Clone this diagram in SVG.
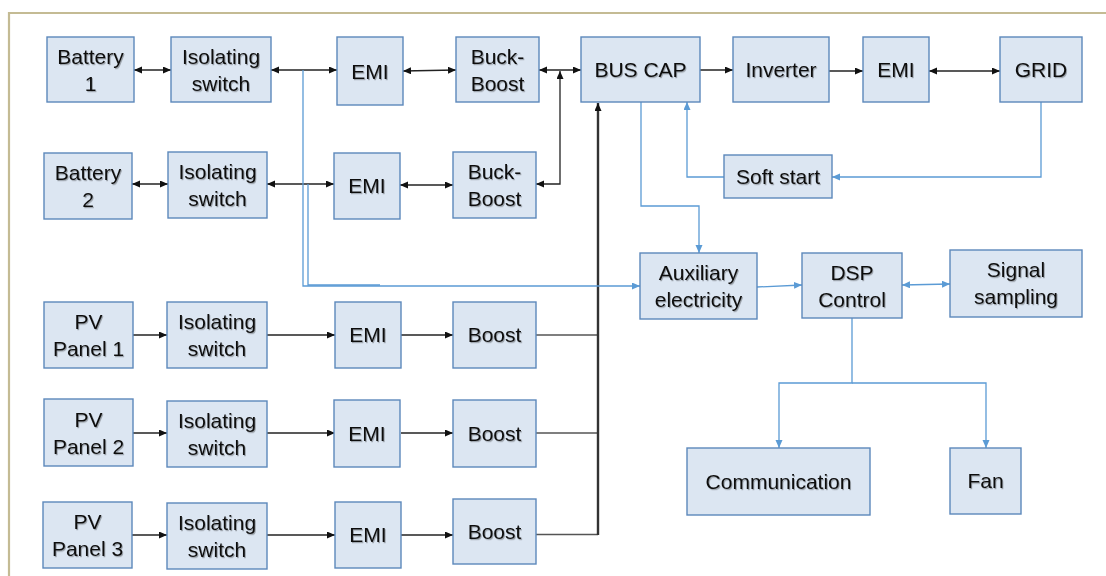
<svg xmlns="http://www.w3.org/2000/svg" width="1106" height="576" viewBox="0 0 1106 576">
<style>
.box{fill:#dce6f2;stroke:#5c88bb;stroke-width:1.4}
.t{font-family:"Liberation Sans",Arial,sans-serif;font-size:21px;fill:#111;text-anchor:middle;filter:url(#sh)}
.k{fill:none;stroke:#222;stroke-width:1.3}
.kb{fill:none;stroke:#555;stroke-width:1.6}
.bus{fill:none;stroke:#333;stroke-width:2.4}
.b{fill:none;stroke:#5b9bd5;stroke-width:1.3}
.frame{fill:none;stroke:#c4bb94;stroke-width:2.2}
</style>
<defs>
<filter id="sh" x="-10%" y="-10%" width="130%" height="140%">
<feDropShadow dx="1" dy="1.2" stdDeviation="0.6" flood-color="#000" flood-opacity="0.3"/>
</filter>
<marker id="ak" markerUnits="userSpaceOnUse" markerWidth="9" markerHeight="8" refX="8" refY="3.5" orient="auto-start-reverse">
<path d="M0,0 L8,3.5 L0,7 z" fill="#111"/>
</marker>
<marker id="ab" markerUnits="userSpaceOnUse" markerWidth="9" markerHeight="8" refX="8" refY="3.5" orient="auto-start-reverse">
<path d="M0,0 L8,3.5 L0,7 z" fill="#5b9bd5"/>
</marker>
</defs>
<rect width="1106" height="576" fill="#fff"/>
<path class="frame" d="M9,576 V13 H1106"/>

<g id="connectors">
<!-- black power path -->
<line class="k" x1="134" y1="70" x2="171" y2="70" marker-start="url(#ak)" marker-end="url(#ak)"/>
<line class="k" x1="271" y1="70" x2="337" y2="70" marker-start="url(#ak)" marker-end="url(#ak)"/>
<line class="k" x1="403" y1="71" x2="456" y2="70" marker-start="url(#ak)" marker-end="url(#ak)"/>
<line class="k" x1="539" y1="70" x2="581" y2="70" marker-start="url(#ak)" marker-end="url(#ak)"/>
<path class="k" d="M560,71 V184 H536" marker-start="url(#ak)" marker-end="url(#ak)"/>
<line class="k" x1="132" y1="184" x2="168" y2="184" marker-start="url(#ak)" marker-end="url(#ak)"/>
<line class="k" x1="267" y1="184" x2="334" y2="184" marker-start="url(#ak)" marker-end="url(#ak)"/>
<line class="k" x1="400" y1="185" x2="453" y2="185" marker-start="url(#ak)" marker-end="url(#ak)"/>
<line class="k" x1="700" y1="70" x2="733" y2="70" marker-end="url(#ak)"/>
<line class="k" x1="829" y1="71" x2="863" y2="71" marker-end="url(#ak)"/>
<line class="k" x1="929" y1="71" x2="1000" y2="71" marker-start="url(#ak)" marker-end="url(#ak)"/>
<!-- PV rows -->
<line class="k" x1="133" y1="335" x2="167" y2="335" marker-end="url(#ak)"/>
<line class="k" x1="267" y1="335" x2="335" y2="335" marker-end="url(#ak)"/>
<line class="k" x1="401" y1="335" x2="453" y2="335" marker-end="url(#ak)"/>
<line class="kb" x1="536" y1="335" x2="598" y2="335"/>
<line class="k" x1="133" y1="433" x2="167" y2="433" marker-end="url(#ak)"/>
<line class="k" x1="267" y1="433" x2="335" y2="433" marker-end="url(#ak)"/>
<line class="k" x1="401" y1="433" x2="453" y2="433" marker-end="url(#ak)"/>
<line class="kb" x1="536" y1="433" x2="598" y2="433"/>
<line class="k" x1="132" y1="535" x2="167" y2="535" marker-end="url(#ak)"/>
<line class="k" x1="267" y1="535" x2="335" y2="535" marker-end="url(#ak)"/>
<line class="k" x1="401" y1="535" x2="453" y2="535" marker-end="url(#ak)"/>
<line class="kb" x1="536" y1="534.5" x2="598" y2="534.5"/>
<path class="bus" d="M598,535 V103" marker-end="url(#ak)"/>
<!-- blue control path -->
<path class="b" d="M303,70 V286 H640" marker-end="url(#ab)"/>
<path class="b" d="M308,184 V285 H380"/>
<path class="b" d="M641,102 V206 H699 V253" marker-end="url(#ab)"/>
<path class="b" d="M724,177 H687 V102" marker-end="url(#ab)"/>
<path class="b" d="M1041,102 V177 H832" marker-end="url(#ab)"/>
<line class="b" x1="757" y1="287" x2="802" y2="285" marker-end="url(#ab)"/>
<line class="b" x1="902" y1="285" x2="950" y2="284" marker-start="url(#ab)" marker-end="url(#ab)"/>
<path class="b" d="M852,318 V383 H779 V448" marker-end="url(#ab)"/>
<path class="b" d="M852,383 H986 V448" marker-end="url(#ab)"/>
</g>

<g id="battery1"><rect class="box" x="47" y="37" width="87" height="65"/><text class="t" x="90.5" y="64">Battery</text><text class="t" x="90.5" y="91">1</text></g>
<g id="iso1"><rect class="box" x="171" y="37" width="100" height="65"/><text class="t" x="221" y="64">Isolating</text><text class="t" x="221" y="91">switch</text></g>
<g id="emi1"><rect class="box" x="337" y="37" width="66" height="68"/><text class="t" x="370" y="78.5">EMI</text></g>
<g id="buckboost1"><rect class="box" x="456" y="37" width="83" height="65"/><text class="t" x="497.5" y="64">Buck-</text><text class="t" x="497.5" y="91">Boost</text></g>
<g id="buscap"><rect class="box" x="581" y="37" width="119" height="65"/><text class="t" x="640.5" y="77">BUS CAP</text></g>
<g id="inverter"><rect class="box" x="733" y="37" width="96" height="65"/><text class="t" x="781" y="77">Inverter</text></g>
<g id="emi3"><rect class="box" x="863" y="37" width="66" height="65"/><text class="t" x="896" y="77">EMI</text></g>
<g id="grid"><rect class="box" x="1000" y="37" width="82" height="65"/><text class="t" x="1041" y="77">GRID</text></g>

<g id="battery2"><rect class="box" x="44" y="153" width="88" height="66"/><text class="t" x="88" y="180">Battery</text><text class="t" x="88" y="207">2</text></g>
<g id="iso2"><rect class="box" x="168" y="152" width="99" height="66"/><text class="t" x="217.5" y="179">Isolating</text><text class="t" x="217.5" y="206">switch</text></g>
<g id="emi2"><rect class="box" x="334" y="153" width="66" height="66"/><text class="t" x="367" y="193">EMI</text></g>
<g id="buckboost2"><rect class="box" x="453" y="152" width="83" height="66"/><text class="t" x="494.5" y="179">Buck-</text><text class="t" x="494.5" y="206">Boost</text></g>
<g id="softstart"><rect class="box" x="724" y="155" width="108" height="43"/><text class="t" x="778" y="184">Soft start</text></g>

<g id="auxiliary"><rect class="box" x="640" y="253" width="117" height="66"/><text class="t" x="698.5" y="280">Auxiliary</text><text class="t" x="698.5" y="307">electricity</text></g>
<g id="dsp"><rect class="box" x="802" y="253" width="100" height="65"/><text class="t" x="852" y="280">DSP</text><text class="t" x="852" y="307">Control</text></g>
<g id="signal"><rect class="box" x="950" y="250" width="132" height="67"/><text class="t" x="1016" y="277">Signal</text><text class="t" x="1016" y="304">sampling</text></g>

<g id="pv1"><rect class="box" x="44" y="302" width="89" height="66"/><text class="t" x="88.5" y="329">PV</text><text class="t" x="88.5" y="356">Panel 1</text></g>
<g id="iso3"><rect class="box" x="167" y="302" width="100" height="66"/><text class="t" x="217" y="329">Isolating</text><text class="t" x="217" y="356">switch</text></g>
<g id="emi4"><rect class="box" x="335" y="302" width="66" height="66"/><text class="t" x="368" y="342">EMI</text></g>
<g id="boost1"><rect class="box" x="453" y="302" width="83" height="66"/><text class="t" x="494.5" y="342">Boost</text></g>

<g id="pv2"><rect class="box" x="44" y="399" width="89" height="67"/><text class="t" x="88.5" y="427">PV</text><text class="t" x="88.5" y="454">Panel 2</text></g>
<g id="iso4"><rect class="box" x="167" y="401" width="100" height="66"/><text class="t" x="217" y="428">Isolating</text><text class="t" x="217" y="455">switch</text></g>
<g id="emi5"><rect class="box" x="334" y="400" width="66" height="67"/><text class="t" x="367" y="441">EMI</text></g>
<g id="boost2"><rect class="box" x="453" y="400" width="83" height="67"/><text class="t" x="494.5" y="441">Boost</text></g>

<g id="pv3"><rect class="box" x="43" y="502" width="89" height="66"/><text class="t" x="87.5" y="529">PV</text><text class="t" x="87.5" y="556">Panel 3</text></g>
<g id="iso5"><rect class="box" x="167" y="503" width="100" height="66"/><text class="t" x="217" y="530">Isolating</text><text class="t" x="217" y="557">switch</text></g>
<g id="emi6"><rect class="box" x="335" y="502" width="66" height="66"/><text class="t" x="368" y="542">EMI</text></g>
<g id="boost3"><rect class="box" x="453" y="499" width="83" height="65"/><text class="t" x="494.5" y="539">Boost</text></g>

<g id="communication"><rect class="box" x="687" y="448" width="183" height="67"/><text class="t" x="778.5" y="489">Communication</text></g>
<g id="fan"><rect class="box" x="950" y="448" width="71" height="66"/><text class="t" x="985.5" y="488">Fan</text></g>
</svg>
